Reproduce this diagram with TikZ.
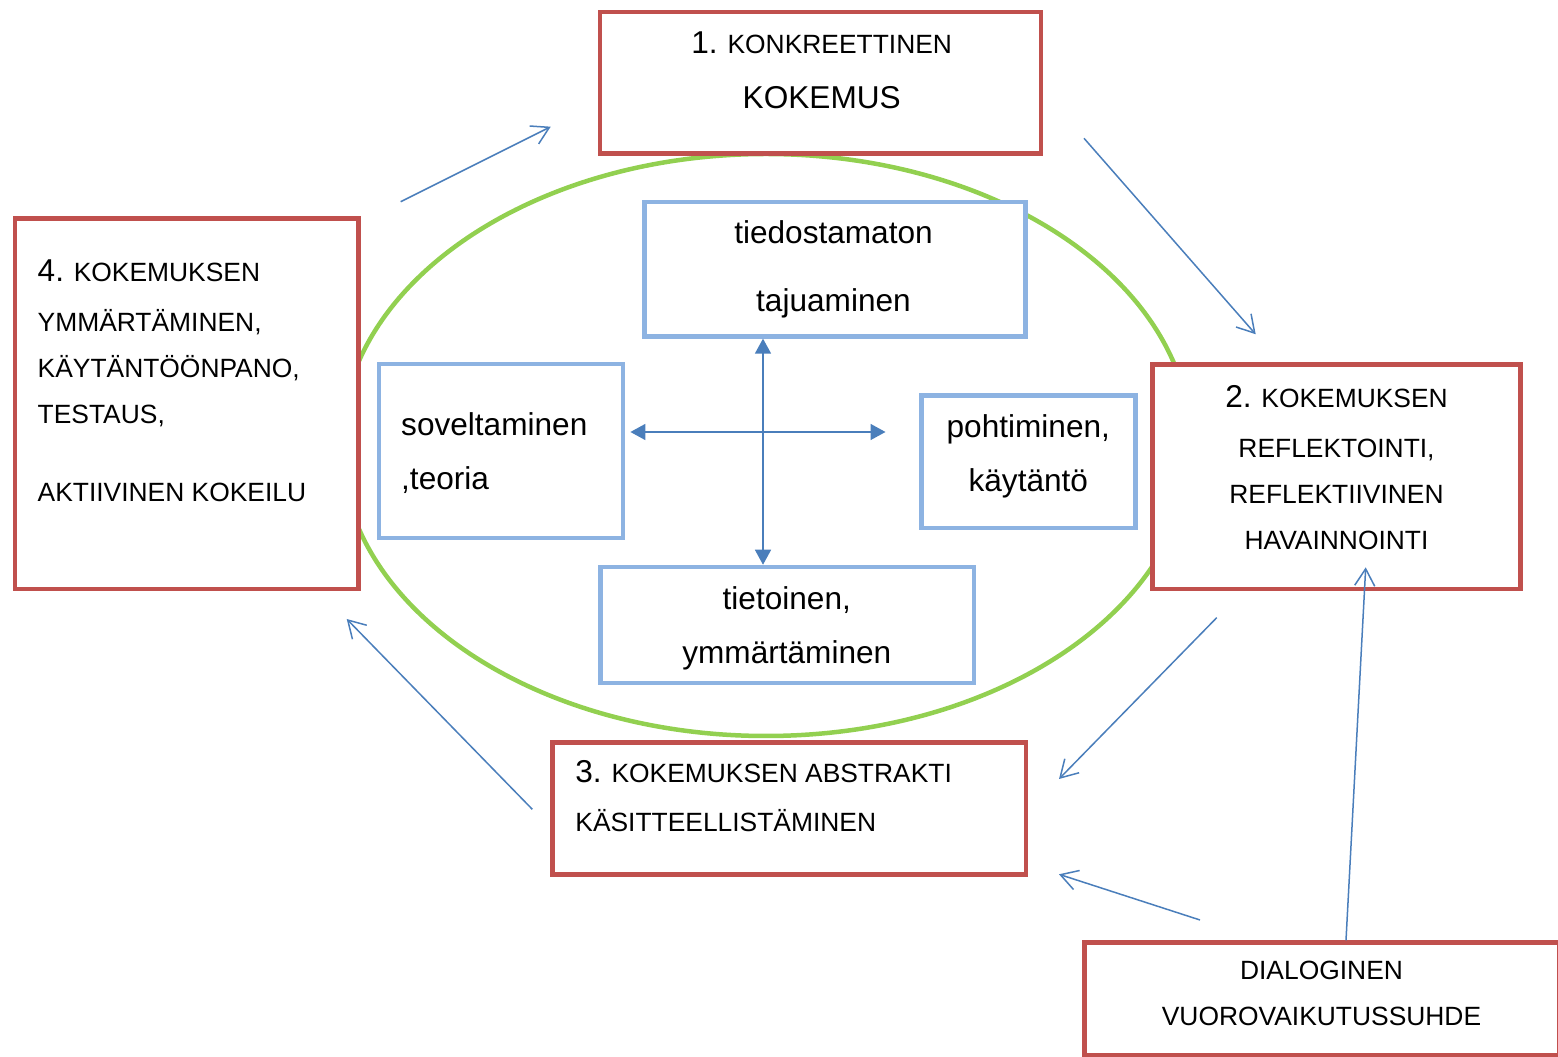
\documentclass[tikz,border=0pt]{standalone}
\usepackage{fontspec}
\setmainfont{Liberation Sans}
\usepackage{tikz}
\usetikzlibrary{arrows.meta}

\definecolor{stagered}{HTML}{C0504D}
\definecolor{modeblue}{HTML}{8DB3E2}
\definecolor{arrowblue}{HTML}{4A7EBB}
\definecolor{ringgreen}{HTML}{92D050}
\newcommand{\fullsz}{\fontsize{15.8bp}{27bp}\selectfont}
\newcommand{\capsz}{\fontsize{13.2bp}{23bp}\selectfont}

\begin{document}
\begin{tikzpicture}[line join=miter,
  stagebox/.style={draw=stagered,line width=2.25bp,fill=white,inner sep=0pt},
  modebox/.style={draw=modeblue,line width=2.25bp,fill=white,inner sep=0pt},
  stagetext/.style={inner sep=0pt,font=\capsz},
  modetext/.style={inner sep=0pt,font=\fullsz},
  cyclearrow/.style={arrowblue,line width=0.75bp,-{Straight Barb[length=8.5bp,width=10bp]}},
  crossarrow/.style={arrowblue,line width=0.75bp,{Triangle[length=7.5bp,width=8bp]}-{Triangle[length=7.5bp,width=8bp]}},
]
\useasboundingbox (0bp,0bp) rectangle (779bp,528.5bp);
%%
\coordinate (ring_c) at (383bp,306bp);
\draw [ringgreen,line width=2.25bp] (ring_c) ellipse (212.5bp and 145.5bp);
%%
\node (stage_1) at (410.25bp,487.1bp) [stagebox,minimum width=220.5bp,minimum height=70.75bp] {};
  \node (stage_2) at (668.25bp,290.1bp) [stagebox,minimum width=184bp,minimum height=112.25bp] {};
  \node (stage_3) at (394.6bp,124.3bp) [stagebox,minimum width=236.6bp,minimum height=65.9bp] {};
  \node (stage_4) at (93.4bp,326.65bp) [stagebox,minimum width=171.8bp,minimum height=185.35bp] {};
  \node (dialog) at (661bp,29.1bp) [stagebox,minimum width=237.5bp,minimum height=56.25bp] {};
%
\node (label_1) at (410.85bp,474.35bp) [stagetext,anchor=base,align=center] {{\fullsz 1.} KONKREETTINEN\\[4.5bp]\fullsz KOKEMUS};
  \node (label_2) at (668.25bp,253.85bp) [stagetext,anchor=base,align=center] {{\fullsz 2.} KOKEMUKSEN\\[2bp]REFLEKTOINTI,\\REFLEKTIIVINEN\\HAVAINNOINTI};
  \node (label_3) at (287.5bp,112.65bp) [stagetext,anchor=base west,align=left] {{\fullsz 3.} KOKEMUKSEN ABSTRAKTI\\[1.5bp]KÄSITTEELLISTÄMINEN};
  \node (label_4) at (18.65bp,277.5bp) [stagetext,anchor=base west,align=left] {{\fullsz 4.} KOKEMUKSEN\\[2bp]YMMÄRTÄMINEN,\\KÄYTÄNTÖÖNPANO,\\TESTAUS,\\[16bp]AKTIIVINEN KOKEILU};
  \node (label_dialog) at (660.75bp,15.65bp) [stagetext,anchor=base,align=center] {DIALOGINEN\\VUOROVAIKUTUSSUHDE};
%%
\node (mode_top) at (417.5bp,393.9bp) [modebox,minimum width=190.45bp,minimum height=67.2bp] {};
  \node (mode_left) at (250.5bp,302.95bp) [modebox,minimum width=122bp,minimum height=87.1bp] {};
  \node (mode_right) at (514.2bp,297.7bp) [modebox,minimum width=107.15bp,minimum height=66.3bp] {};
  \node (mode_bottom) at (393.6bp,215.95bp) [modebox,minimum width=186.55bp,minimum height=58.1bp] {};
%
\node (text_top) at (416.75bp,372.5bp) [modetext,anchor=base,align=center] {tiedostamaton\\[7.25bp]tajuaminen};
  \node (text_left) at (200.4bp,283.85bp) [modetext,anchor=base west,align=left] {soveltaminen\\,teoria};
  \node (text_right) at (514.15bp,282.6bp) [modetext,anchor=base,align=center] {pohtiminen,\\käytäntö};
  \node (text_bottom) at (393.4bp,196.9bp) [modetext,anchor=base,align=center] {tietoinen,\\ymmärtäminen};
%%
\coordinate (cross_v) at (381.5bp,0bp);
\coordinate (cross_l) at (315.2bp,312.5bp);
\coordinate (cross_r) at (442.75bp,312.5bp);
\draw [crossarrow] (cross_v |- mode_top.south) -- (cross_v |- mode_bottom.north);
\draw [crossarrow] (cross_l) -- (cross_r);
%%
\coordinate (a41) at (200.35bp,427.65bp);
\coordinate (a14) at (275.35bp,465.15bp);
\coordinate (a12) at (542bp,459.35bp);
\coordinate (a21) at (627.85bp,361.35bp);
\coordinate (a23) at (608.35bp,219.65bp);
\coordinate (a32) at (529.5bp,139bp);
\coordinate (a34) at (266.15bp,123.85bp);
\coordinate (a43) at (173.35bp,219bp);
\coordinate (ad3) at (600bp,68.5bp);
\coordinate (a3d) at (529.5bp,91.35bp);
\coordinate (ad2) at (673bp,0bp);
\coordinate (a2d) at (682.85bp,244.85bp);
\draw [cyclearrow] (a41) -- (a14);
\draw [cyclearrow] (a12) -- (a21);
\draw [cyclearrow] (a23) -- (a32);
\draw [cyclearrow] (a34) -- (a43);
\draw [cyclearrow] (ad3) -- (a3d);
\draw [cyclearrow] (ad2 |- dialog.north) -- (a2d);
%
\end{tikzpicture}
\end{document}
